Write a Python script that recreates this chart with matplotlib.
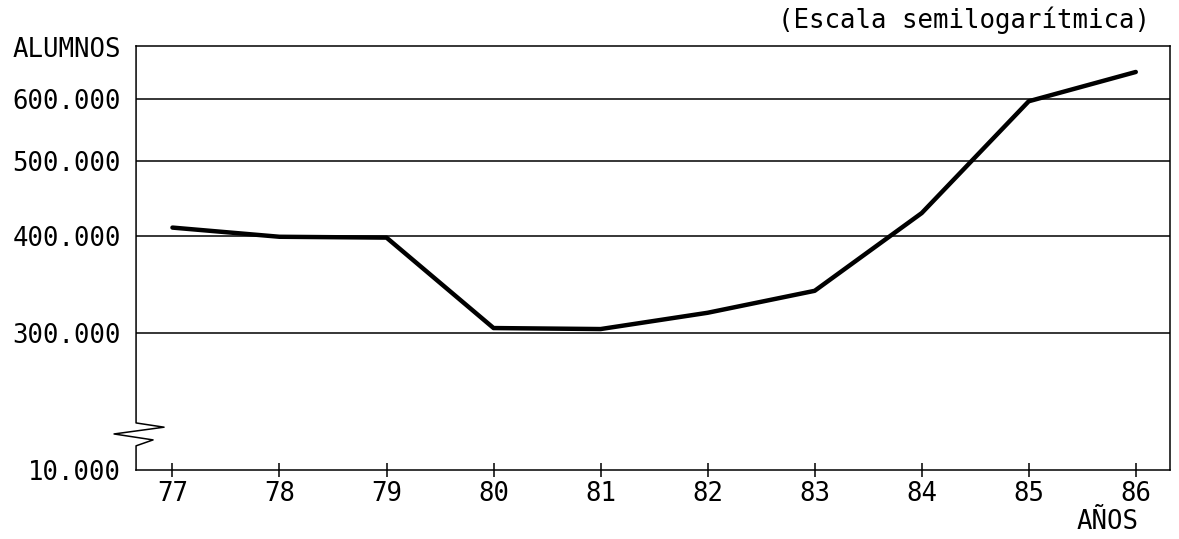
import numpy as np
import matplotlib.pyplot as plt
from matplotlib.ticker import FixedLocator, NullLocator

# data (alumnos por año)
years = [77, 78, 79, 80, 81, 82, 83, 84, 85, 86]
alumnos = [410000, 399000, 398000, 304500, 303600, 318600, 340000, 428000, 596000, 650000]

grid_vals = [300000, 400000, 500000, 600000]
ytick_vals = [200000, 300000, 400000, 500000, 600000]
ytick_labels = ["10.000", "300.000", "400.000", "500.000", "600.000"]

plt.rcParams['font.family'] = ['DejaVu Sans Mono']

fig = plt.figure(figsize=(11.79, 5.39), dpi=100)
ax = fig.add_axes([0.1154, 0.128, 0.877, 0.7867])

ax.set_yscale('log')
ax.set_ylim(200000, 702000)
ax.set_xlim(76.66, 86.32)

ax.plot(years, alumnos, color='black', lw=3.2, solid_capstyle='round', solid_joinstyle='round', zorder=3)

for g in grid_vals:
    ax.axhline(g, color='black', lw=1.1, zorder=1)

ax.yaxis.set_major_locator(FixedLocator(ytick_vals))
ax.yaxis.set_minor_locator(NullLocator())
ax.set_yticklabels(ytick_labels)
ax.tick_params(axis='y', length=0, pad=11, labelsize=18.5)

ax.set_xticks(years)
ax.set_xticklabels([str(y) for y in years])
ax.tick_params(axis='x', direction='inout', length=10, width=1.1, pad=3, labelsize=18.5)

for s in ['top', 'right', 'bottom']:
    ax.spines[s].set_linewidth(1.1)
ax.spines['left'].set_visible(False)

# left spine with the break zigzag
zx = [0, 0, 28, -22, 17, 0, 0]
zy = [1.0, 0.111, 0.101, 0.085, 0.071, 0.057, 0.0]
zx = [v / 1034.0 for v in zx]
ax.plot(zx, zy, color='black', lw=1.1, transform=ax.transAxes, clip_on=False, zorder=4)

fig.text(0.011, 0.907, "ALUMNOS", fontsize=18.5, va='center', ha='left')
fig.text(0.975, 0.963, "(Escala semilogarítmica)", fontsize=18.5, va='center', ha='right')
fig.text(0.966, 0.032, "AÑOS", fontsize=18.5, va='center', ha='right')

fig.savefig("out.png", dpi=100)
